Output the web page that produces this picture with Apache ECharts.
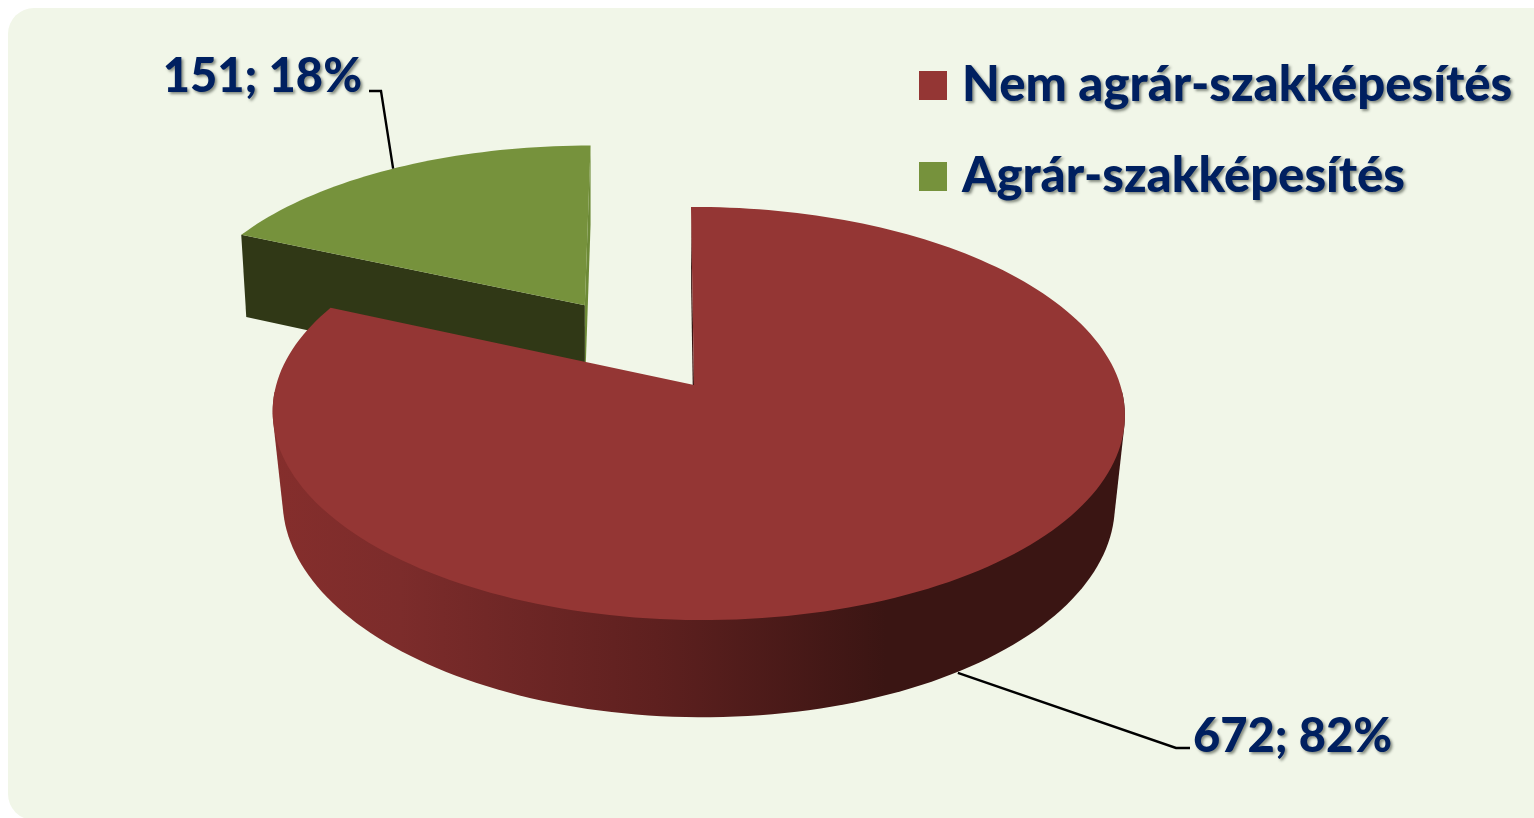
<!DOCTYPE html>
<html>
<head>
<meta charset="utf-8">
<style>html,body{margin:0;padding:0;background:#fff;overflow:hidden}#c{width:1534px;height:818px}</style>
<script src="https://cdn.jsdelivr.net/npm/echarts@6/dist/echarts.min.js"></script>
</head>
<body>
<div id="c"></div>
<script>
const categories = ['Nem agrár-szakképesítés', 'Agrár-szakképesítés'];
const seriesValues = [672, 151];
const percentLabels = ['82%', '18%'];

const total = seriesValues[0] + seriesValues[1];
const DEG = Math.PI / 180;
const TEXT = '#002060', FONT = 'Lato';

/* perspective view of the tilted pie */
function project(u, v) {
  const w = 1 + 0.138 * v - 0.01 * u;
  const y = 385 - 202.6 * v / w;
  const x = 694 + 422 * u / w - 0.017 * (385 - y);
  return [x, y];
}
/* the bottom rim of a slice, seen from its top rim */
function drop(p, vx, k) {
  return [p[0] + (vx - p[0]) * k, 73 + 1.039 * p[1]];
}
const dropRed = (p) => drop(p, 698, 0.0235);
const dropGreen = (p) => drop(p, 591, 0.0143);
/* small skew of the pulled-out slice */
const skewGreen = (p) => {
  const dx = p[0] - 586, dy = p[1] - 305;
  return [p[0] + 0.0124 * dx + 0.0255 * dy, p[1] + 0.006 * dx];
};
function pt(deg, ex, ey) {
  const t = deg * DEG;
  return project(ex + Math.sin(t), ey + Math.cos(t));
}
function arc(a, b, ex, ey) {
  const out = [], n = Math.ceil(Math.abs(b - a) / 1.5);
  for (let i = 0; i <= n; i++) out.push(pt(a + (b - a) * i / n, ex, ey));
  return out;
}
function hull(points) {
  const p = points.slice().sort((a, b) => a[0] - b[0] || a[1] - b[1]);
  const cross = (o, a, b) => (a[0] - o[0]) * (b[1] - o[1]) - (a[1] - o[1]) * (b[0] - o[0]);
  const lo = [], up = [];
  for (const q of p) { while (lo.length > 1 && cross(lo[lo.length - 2], lo[lo.length - 1], q) <= 0) lo.pop(); lo.push(q); }
  for (const q of p.slice().reverse()) { while (up.length > 1 && cross(up[up.length - 2], up[up.length - 1], q) <= 0) up.pop(); up.push(q); }
  return lo.slice(0, -1).concat(up.slice(0, -1));
}
const poly = (points, fill) => ({
  type: 'polygon', shape: { points }, style: { fill, stroke: null }
});
const line = (points) => ({
  type: 'polyline', shape: { points },
  style: { stroke: '#000', lineWidth: 2.4, fill: null }
});
const label = (text, x, y, align) => ({
  type: 'text', x, y,
  style: {
    text, x: 0, y: 0, align, verticalAlign: 'middle', fill: TEXT,
    font: '900 47px ' + FONT, textShadowColor: 'rgba(40,50,40,0.55)',
    textShadowBlur: 3, textShadowOffsetX: 2, textShadowOffsetY: 2
  }
});

function renderRed(params, api) {
  const v = api.value(0);
  const end = v / total * 360, mid = end / 2;
  const apexT = project(0, 0), apexB = dropRed(apexT);
  const front = arc(92, 268, 0, 0);
  const side = hull(front.concat(front.map(dropRed)));
  const top = [apexT].concat(arc(0, end, 0, 0));
  const outer0 = pt(0, 0, 0);
  const anchor = dropRed(pt(mid, 0, 0));
  return {
    type: 'group',
    children: [
      poly(side, new echarts.graphic.LinearGradient(0, 0, 1, 0, [
        { offset: 0, color: '#852e2c' },
        { offset: 0.15, color: '#7c2c2b' },
        { offset: 0.45, color: '#5e201f' },
        { offset: 0.72, color: '#3a1513' },
        { offset: 1, color: '#3a1513' }
      ])),
      poly([apexT, outer0, dropRed(outer0), apexB], '#3a1513'),
      poly(top, '#943634'),
      line([[anchor[0] + 5, anchor[1] - 1], [1176, 748], [1190, 748]]),
      label(v + '; ' + percentLabels[0], 1193, 737, 'left')
    ]
  };
}
function renderGreen(params, api) {
  const v = api.value(0);
  const span = v / total * 360, start = 360 - span, mid = start + span / 2;
  const ex = 0.497 * Math.sin(mid * DEG), ey = 0.497 * Math.cos(mid * DEG);
  const apexT = skewGreen(project(ex, ey)), apexB = dropGreen(apexT);
  const outerR = skewGreen(pt(360, ex, ey)), outerL = skewGreen(pt(start, ex, ey));
  const anchor = skewGreen(pt(mid, ex, ey));
  return {
    type: 'group',
    children: [
      poly([apexT, outerR, dropGreen(outerR), apexB], '#6d8a37'),
      poly([apexT, outerL, dropGreen(outerL), apexB], '#303816'),
      poly([apexT].concat(arc(start, 360, ex, ey).map(skewGreen)), '#76923c'),
      line([anchor, [381, 91], [369, 91]]),
      label(v + '; ' + percentLabels[1], 362, 77, 'right')
    ]
  };
}

const chart = echarts.init(document.getElementById('c'), null, { renderer: 'canvas' });
chart.setOption({
  animation: false,
  backgroundColor: '#ffffff',
  graphic: [{
    type: 'rect', z: -10, silent: true,
    shape: { x: 8, y: 8, width: 1560, height: 812, r: 26 },
    style: { fill: '#f1f6e8' }
  }],
  legend: {
    data: categories.map((name, i) => ({
      name, itemStyle: { color: ['#943634', '#76923c'][i] }
    })),
    orient: 'vertical', left: 914, top: 56,
    icon: 'rect', itemWidth: 28, itemHeight: 29, itemGap: 42,
    selectedMode: false,
    textStyle: {
      color: TEXT, fontFamily: FONT, fontWeight: 900, fontSize: 49, padding: [0, 0, 0, 10],
      textShadowColor: 'rgba(40,50,40,0.55)', textShadowBlur: 3,
      textShadowOffsetX: 2, textShadowOffsetY: 2
    }
  },
  series: [
    { type: 'custom', name: categories[1], coordinateSystem: 'none', silent: true,
      itemStyle: { color: '#76923c' }, data: [[seriesValues[1]]], renderItem: renderGreen, z: 2 },
    { type: 'custom', name: categories[0], coordinateSystem: 'none', silent: true,
      itemStyle: { color: '#943634' }, data: [[seriesValues[0]]], renderItem: renderRed, z: 3 }
  ]
});
</script>
</body>
</html>
